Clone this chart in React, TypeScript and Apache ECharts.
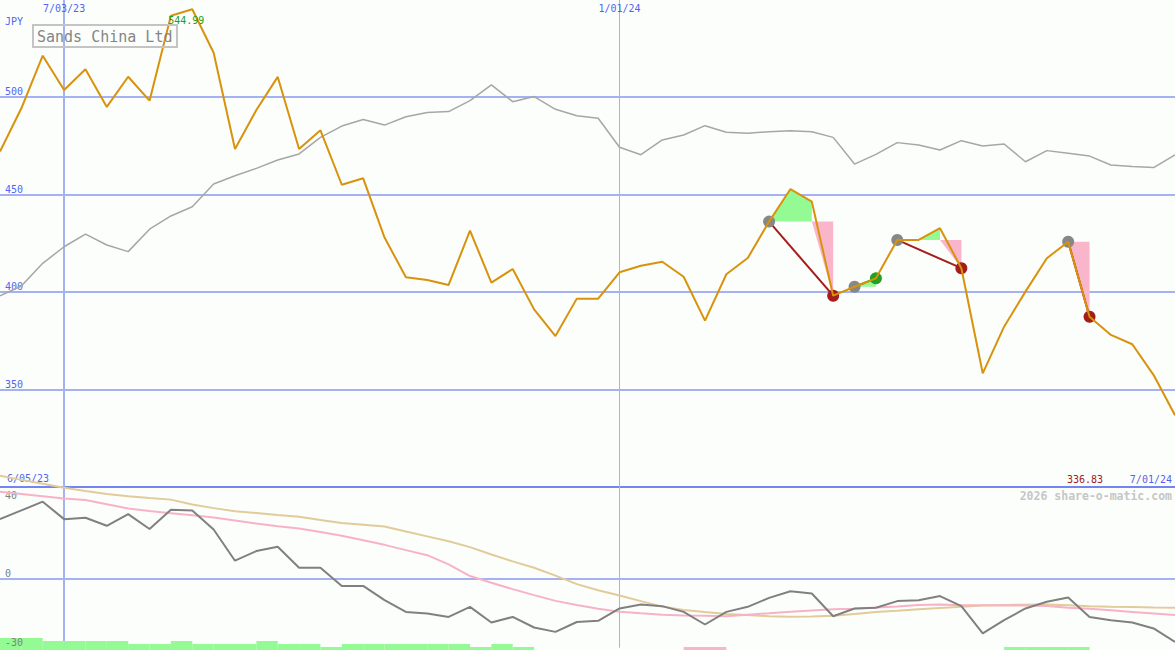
import React, { useEffect, useRef } from "react";
import * as echarts from "echarts";

const dates = [
  "6/12/23", "6/19/23", "6/26/23", "7/03/23", "7/10/23", "7/17/23", "7/24/23", "7/31/23",
  "8/07/23", "8/14/23", "8/21/23", "8/28/23", "9/04/23", "9/11/23", "9/18/23", "9/25/23",
  "10/02/23", "10/09/23", "10/16/23", "10/23/23", "10/30/23", "11/06/23", "11/13/23", "11/20/23",
  "11/27/23", "12/04/23", "12/11/23", "12/18/23", "12/25/23", "1/01/24", "1/08/24", "1/15/24",
  "1/22/24", "1/29/24", "2/05/24", "2/12/24", "2/19/24", "2/26/24", "3/04/24", "3/11/24",
  "3/18/24", "3/25/24", "4/01/24", "4/08/24", "4/15/24", "4/22/24", "4/29/24", "5/06/24",
  "5/13/24", "5/20/24", "5/27/24", "6/03/24", "6/10/24", "6/17/24", "6/24/24", "7/01/24",
];

const price = [
  472.0, 494.2, 521.2, 503.6, 514.2, 494.9, 510.4, 498.1, 541.7, 544.99,
  522.7, 473.3, 493.3, 510.3, 473.3, 482.9, 455.0, 458.3, 427.9, 407.6,
  406.2, 403.6, 431.5, 404.8, 411.8, 391.1, 377.4, 396.6, 396.6, 410.1,
  413.5, 415.5, 407.8, 385.3, 409.1, 417.4, 436.1, 452.8, 446.3, 398.1,
  402.7, 407.0, 426.7, 426.7, 432.7, 412.2, 358.3, 382.2, 400.2, 417.3,
  425.8, 387.3, 378.0, 373.2, 357.4, 336.83,
];

const benchmark = [
  398.1, 403.1, 414.7, 423.2, 429.7, 424.1, 420.7, 432.2, 439.0, 443.7,
  455.4, 459.6, 463.4, 467.7, 470.8, 479.3, 485.1, 488.5, 485.6, 489.9,
  492.1, 492.5, 498.1, 506.2, 497.6, 500.2, 493.7, 490.4, 489.1, 474.2,
  470.4, 478.0, 480.5, 485.3, 481.9, 481.4, 482.2, 482.7, 482.2, 479.3,
  465.6, 470.6, 476.6, 475.4, 472.8, 477.6, 474.9, 475.9, 466.8, 472.5,
  471.1, 469.7, 465.1, 464.3, 463.8, 470.3,
];

const oscGray = [
  26.0, 29.8, 33.6, 26.0, 26.6, 23.1, 28.2, 21.7, 30.1, 29.8,
  21.5, 7.9, 12.1, 14.0, 4.8, 4.8, -3.1, -3.1, -9.3, -14.4,
  -15.1, -16.6, -12.2, -19.0, -16.6, -21.2, -23.1, -18.8, -18.3, -12.9,
  -11.2, -11.9, -14.4, -19.9, -14.4, -12.2, -8.3, -5.4, -6.4, -16.3,
  -12.9, -12.6, -9.7, -9.3, -7.5, -11.9, -23.8, -18.0, -12.9, -10.0,
  -8.1, -16.6, -18.0, -19.0, -21.6, -27.5,
];

const oscPink = [
  37.9, 37.0, 36.0, 35.0, 34.3, 32.5, 30.6, 29.5, 28.6, 27.7,
  26.7, 25.4, 24.1, 22.9, 21.9, 20.4, 18.8, 16.8, 14.8, 12.5,
  10.3, 6.3, 1.2, -1.7, -4.5, -7.1, -9.6, -11.4, -13.0, -14.3,
  -15.0, -15.6, -16.0, -16.1, -16.3, -15.6, -15.0, -14.3, -13.8, -13.3,
  -13.0, -12.5, -12.0, -11.4, -11.2, -11.5, -11.5, -11.6, -11.6, -11.8,
  -12.6, -13.0, -13.7, -14.4, -15.1, -15.8,
];

const oscTan = [
  44.9, 43.1, 41.4, 39.7, 38.3, 37.0, 36.0, 35.2, 34.5, 32.4,
  30.8, 29.4, 28.7, 27.8, 27.0, 25.6, 24.3, 23.6, 22.8, 20.6,
  18.5, 16.4, 13.8, 10.6, 7.6, 4.8, 1.4, -2.3, -5.0, -7.3,
  -9.7, -12.1, -13.6, -14.5, -15.3, -15.8, -16.3, -16.5, -16.4, -16.1,
  -15.3, -14.4, -13.9, -13.3, -12.7, -12.2, -11.6, -11.4, -11.3, -11.2,
  -11.5, -11.9, -12.2, -12.3, -12.5, -12.6,
];

// weekly strength bars (positive = green, negative = pink), one per week span
const barLevel = [
  4, 4, 3, 3, 3, 3, 2, 2, 3, 2,
  2, 2, 3, 2, 2, 1, 2, 2, 2, 2,
  2, 2, 1, 2, 1, 0, 0, 0, 0, 0,
  0, 0, -1, -1, 0, 0, 0, 0, 0, 0,
  0, 0, 0, 0, 0, 0, 0, 1, 1, 1,
  1, 0, 0, 0, 0,
];

const signalStart = [36, 40, 42, 50];
const signalEnd = [39, 41, 45, 51];

const priceTicks = [350, 400, 450, 500];
const oscTicks = [0, -30];
const oscTopTick = 40;
const xLabelIdx = [3, 29];
const startLabel = "6/05/23";
const currency = "JPY";
const title = "Sands China Ltd";
const watermark = "2026 share-o-matic.com";

const FONT = '"DejaVu Sans Mono", monospace';
const BLUE = "#5464f0";
const GRID = "#a4b2f2";
const SEP = "#7484f0";
const BG = "#fcfefc";
const GREEN_FILL = "#94fa94";
const PINK_FILL = "#f9b6cb";
const CLEAR = "rgba(0,0,0,0)";

export default function App() {
  const ref = useRef<HTMLDivElement>(null);

  useEffect(() => {
    const chart = echarts.init(ref.current as HTMLDivElement, null, { renderer: "svg" });

    // top: ticks 300..500 + max ; bottom: ticks -30..40 step 10
    const priceLineColors = [SEP, GRID, GRID, GRID, GRID, CLEAR];
    const oscLineColors: string[] = [];
    for (let v = -30; v <= 40; v += 10) oscLineColors.push(v === 0 ? GRID : CLEAR);

    const catAxis = (grid: number, pos: string, idx: number, width: number, labels: boolean) => ({
      gridIndex: grid,
      type: "category",
      data: dates,
      boundaryGap: false,
      position: pos,
      axisLine: { show: false },
      axisTick: { show: false },
      axisLabel: labels
        ? {
            show: true,
            inside: true,
            margin: 3,
            verticalAlign: "top",
            interval: (i: number) => xLabelIdx.includes(i),
            color: BLUE,
            fontSize: 10,
            fontFamily: FONT,
          }
        : { show: false },
      splitLine: {
        show: true,
        interval: (i: number) => i === idx,
        lineStyle: { color: GRID, width },
      },
    });

    const oscLabel = (verticalAlign: string, show: (v: number) => boolean, extra: any) => ({
      inside: true,
      margin: 5,
      verticalAlign,
      color: "#808080",
      fontSize: 10,
      fontFamily: FONT,
      formatter: (v: number) => (show(v) ? String(Math.round(v)) : ""),
      ...extra,
    });

    const option: any = {
      animation: false,
      backgroundColor: BG,
      grid: [
        { left: 0, right: 0, top: 0, height: 487, outerBoundsMode: "none", containLabel: false },
        { left: 0, right: 0, top: 487, height: 160.7, outerBoundsMode: "none", containLabel: false },
      ],
      xAxis: [
        catAxis(0, "top", xLabelIdx[0], 2, true),
        catAxis(0, "bottom", xLabelIdx[1], 1, false),
        catAxis(1, "top", xLabelIdx[0], 2, false),
        catAxis(1, "bottom", xLabelIdx[1], 1, false),
      ],
      yAxis: [
        {
          gridIndex: 0,
          type: "value",
          min: 300,
          max: 549.74,
          interval: 50,
          position: "left",
          axisLine: { show: false },
          axisTick: { show: false },
          axisLabel: {
            inside: true,
            margin: 5,
            verticalAlign: "bottom",
            color: BLUE,
            fontSize: 10,
            fontFamily: FONT,
            showMinLabel: false,
            showMaxLabel: false,
            formatter: (v: number) => (priceTicks.some((t) => Math.abs(t - v) < 1e-6) ? String(Math.round(v)) : ""),
          },
          splitLine: { show: true, lineStyle: { color: priceLineColors, width: 2 } },
        },
        {
          gridIndex: 1,
          type: "value",
          min: -30,
          max: 40,
          interval: 10,
          position: "left",
          z: 2,
          axisLine: { show: false },
          axisTick: { show: false },
          axisLabel: oscLabel("bottom", (v) => oscTicks.some((t) => Math.abs(t - v) < 1e-6), {
            showMinLabel: true,
            showMaxLabel: false,
          }),
          splitLine: { show: true, lineStyle: { color: oscLineColors, width: 2 } },
        },
        {
          gridIndex: 1,
          type: "value",
          min: -30,
          max: 40,
          interval: 70,
          position: "left",
          z: 2,
          axisLine: { show: false },
          axisTick: { show: false },
          axisLabel: oscLabel("top", (v) => Math.abs(v - oscTopTick) < 1e-6, {
            padding: [3, 0, 0, 0],
            showMinLabel: false,
            showMaxLabel: true,
          }),
          splitLine: { show: false },
        },
        // strength-bar scale: 0 sits on the page's bottom edge, just under the panel
        { gridIndex: 1, type: "value", min: 0.767, max: 54.333, show: false, splitLine: { show: false } },
      ],
      series: [
        {
          type: "line",
          name: "benchmark",
          xAxisIndex: 0,
          yAxisIndex: 0,
          data: benchmark,
          symbol: "none",
          silent: true,
          z: 2,
          lineStyle: { color: "#a6a6a6", width: 1.5 },
        },
        {
          type: "custom",
          name: "shading",
          xAxisIndex: 0,
          yAxisIndex: 0,
          silent: true,
          z: 2,
          data: signalStart.map((s) => [s, price[s]]),
          renderItem: (params: any, api: any) => {
            const k = params.dataIndex;
            const s = signalStart[k];
            const e = signalEnd[k];
            const L = price[s];
            const gain = price[e] >= L;
            const m = gain ? e : e - 1;
            const children: any[] = [];
            if (m > s) {
              const pts: number[][] = [api.coord([s, L])];
              for (let j = s; j <= m; j++) pts.push(api.coord([j, price[j]]));
              pts.push(api.coord([m, L]));
              children.push({ type: "polygon", shape: { points: pts }, style: { fill: GREEN_FILL } });
            }
            if (!gain) {
              const pts = [api.coord([m, L]), api.coord([e, L]), api.coord([e, price[e]])];
              children.push({ type: "polygon", shape: { points: pts }, style: { fill: PINK_FILL } });
            }
            return { type: "group", children };
          },
        },
        {
          type: "custom",
          name: "signals",
          xAxisIndex: 0,
          yAxisIndex: 0,
          silent: true,
          z: 3,
          data: signalStart.map((s) => [s, price[s]]),
          renderItem: (params: any, api: any) => {
            const k = params.dataIndex;
            const s = signalStart[k];
            const e = signalEnd[k];
            const gain = price[e] >= price[s];
            const a = api.coord([s, price[s]]);
            const b = api.coord([e, price[e]]);
            const endColor = gain ? "#22a022" : "#a51c1c";
            return {
              type: "group",
              children: [
                {
                  type: "line",
                  shape: { x1: a[0], y1: a[1], x2: b[0], y2: b[1] },
                  style: { stroke: endColor, lineWidth: 2 },
                },
                { type: "circle", shape: { cx: a[0], cy: a[1], r: 6 }, style: { fill: "#878787" } },
                { type: "circle", shape: { cx: b[0], cy: b[1], r: 6 }, style: { fill: endColor } },
              ],
            };
          },
        },
        {
          type: "line",
          name: "price",
          xAxisIndex: 0,
          yAxisIndex: 0,
          data: price,
          symbol: "none",
          silent: true,
          z: 4,
          lineStyle: { color: "#d8920c", width: 2 },
          markPoint: {
            symbol: "circle",
            symbolSize: 1,
            itemStyle: { color: CLEAR },
            silent: true,
            label: {
              show: true,
              position: "inside",
              offset: [-6, 11],
              formatter: (p: any) => Number(p.value).toFixed(2),
              color: "#20a020",
              fontSize: 10,
              fontFamily: FONT,
            },
            data: [{ type: "max" }],
          },
        },
        {
          type: "line",
          name: "oscTan",
          xAxisIndex: 2,
          yAxisIndex: 1,
          data: oscTan,
          symbol: "none",
          silent: true,
          clip: false,
          z: 3,
          lineStyle: { color: "#e2cb9a", width: 2 },
        },
        {
          type: "line",
          name: "oscPink",
          xAxisIndex: 2,
          yAxisIndex: 1,
          data: oscPink,
          symbol: "none",
          silent: true,
          clip: false,
          z: 3,
          lineStyle: { color: "#f8b2c8", width: 2 },
        },
        {
          type: "line",
          name: "oscGray",
          xAxisIndex: 2,
          yAxisIndex: 1,
          data: oscGray,
          symbol: "none",
          silent: true,
          clip: false,
          z: 4,
          lineStyle: { color: "#808080", width: 2 },
        },
        {
          type: "custom",
          name: "bars",
          xAxisIndex: 2,
          yAxisIndex: 3,
          silent: true,
          clip: false,
          z: 1,
          data: barLevel.map((h, i) => [i, h]).filter((d) => d[1] !== 0),
          renderItem: (params: any, api: any) => {
            const i = api.value(0);
            const h = api.value(1);
            const p0 = api.coord([i, 0]);
            const p1 = api.coord([i + 1, Math.abs(h)]);
            return {
              type: "rect",
              shape: { x: p0[0], y: p1[1], width: p1[0] - p0[0], height: p0[1] - p1[1] },
              style: { fill: h > 0 ? GREEN_FILL : PINK_FILL },
            };
          },
        },
      ],
      graphic: [
        {
          type: "rect",
          shape: { x: 33, y: 25, width: 144, height: 22 },
          style: { fill: CLEAR, stroke: "#c4c4c4", lineWidth: 2 },
          silent: true,
          z: 10,
        },
        {
          type: "text",
          x: 37,
          y: 36.5,
          style: { text: title, fill: "#858585", font: `15px ${FONT}`, align: "left", verticalAlign: "middle" },
          silent: true,
          z: 10,
        },
        {
          type: "text",
          x: 5,
          y: 21,
          style: { text: currency, fill: BLUE, font: `10px ${FONT}`, align: "left", verticalAlign: "middle" },
          silent: true,
        },
        {
          type: "text",
          x: 7,
          y: 478.5,
          style: { text: startLabel, fill: BLUE, font: `10px ${FONT}`, align: "left", verticalAlign: "middle" },
          silent: true,
        },
        {
          type: "text",
          x: 1103,
          y: 479,
          style: {
            text: price[price.length - 1].toFixed(2),
            fill: "#a02020",
            font: `10px ${FONT}`,
            align: "right",
            verticalAlign: "middle",
          },
          silent: true,
        },
        {
          type: "text",
          x: 1172,
          y: 479,
          style: { text: dates[dates.length - 1], fill: BLUE, font: `10px ${FONT}`, align: "right", verticalAlign: "middle" },
          silent: true,
        },
        {
          type: "text",
          x: 1172,
          y: 496,
          style: {
            text: watermark,
            fill: "#c6c6c6",
            font: `bold 11.5px ${FONT}`,
            align: "right",
            verticalAlign: "middle",
          },
          silent: true,
        },
      ],
    };

    chart.setOption(option);
    return () => chart.dispose();
  }, []);

  return (
    <div
      ref={ref}
      style={{ position: "fixed", left: 0, top: 0, width: 1175, height: 650 }}
    />
  );
}
